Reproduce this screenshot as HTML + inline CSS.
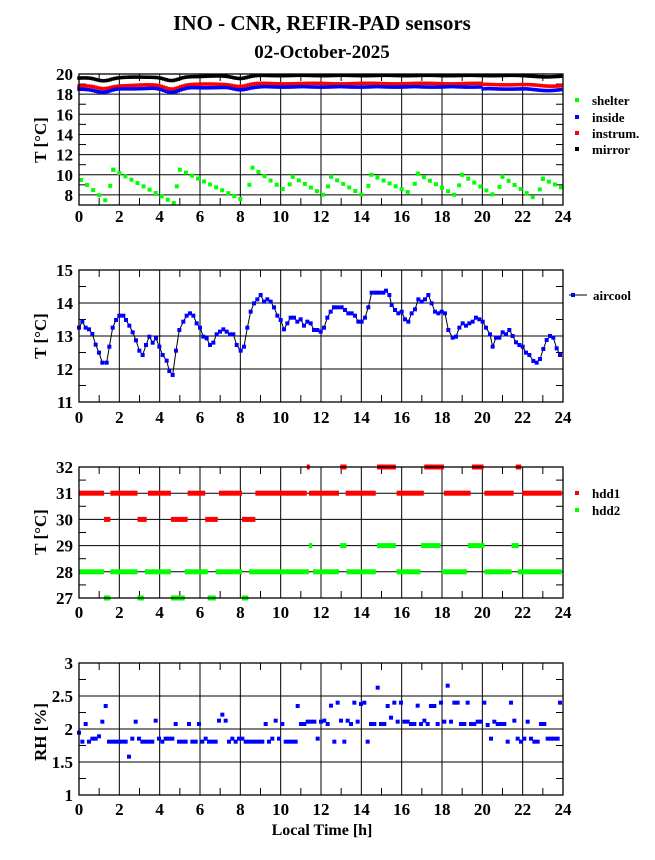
<!DOCTYPE html>
<html><head><meta charset="utf-8">
<style>
html,body{margin:0;padding:0;background:#fff;}
svg{display:block;font-family:"Liberation Serif",serif;font-weight:bold;}
</style></head>
<body>
<svg id="s" width="655" height="860" xmlns="http://www.w3.org/2000/svg">
<text x="322" y="30" text-anchor="middle" font-size="21">INO - CNR, REFIR-PAD sensors</text>
<text x="322" y="58" text-anchor="middle" font-size="19">02-October-2025</text>
<text x="322" y="835" text-anchor="middle" font-size="16">Local Time [h]</text>
</svg>
<script>
const S=document.getElementById('s');const NS='http://www.w3.org/2000/svg';
function el(t,a,txt){const e=document.createElementNS(NS,t);for(const k in a)e.setAttribute(k,a[k]);if(txt!==undefined)e.textContent=txt;S.appendChild(e);return e;}
const X0=79,X1=563;const hx=h=>X0+(X1-X0)*h/24;
function panel(top,bot,ymin,ymax,major,minor,ylab,labs,xlabY,ytitleY){
  const fy=v=>bot-(bot-top)*(v-ymin)/(ymax-ymin);
  for(let h=2;h<24;h+=2)el('line',{x1:hx(h),x2:hx(h),y1:top,y2:bot,stroke:'#000','stroke-width':1});
  for(let h=1;h<24;h+=2){el('line',{x1:hx(h),x2:hx(h),y1:top,y2:top+7,stroke:'#000'});el('line',{x1:hx(h),x2:hx(h),y1:bot,y2:bot-7,stroke:'#000'});}
  for(let v=ymin;v<=ymax+1e-9;v+=minor){const y=fy(v);const isM=Math.abs(v/major-Math.round(v/major))<1e-6;
    if(isM){el('line',{x1:X0,x2:X1,y1:y,y2:y,stroke:'#000'});}
    else{el('line',{x1:X0,x2:X0+7,y1:y,y2:y,stroke:'#000'});el('line',{x1:X1,x2:X1-7,y1:y,y2:y,stroke:'#000'});}
  }
  labs.forEach(([v,t])=>el('text',{x:73,y:fy(v)+6,'text-anchor':'end','font-size':17},t));
  for(let h=0;h<=24;h+=2)el('text',{x:hx(h),y:xlabY,'text-anchor':'middle','font-size':17},String(h));
  el('text',{x:0,y:0,'text-anchor':'middle','font-size':17,transform:`translate(46,${ytitleY}) rotate(-90)`},ylab);
  return fy;
}
function frame(top,bot){el('rect',{x:X0,y:top,width:X1-X0,height:bot-top,fill:'none',stroke:'#000','stroke-width':1.3});}
function sq(x,y,c,s,parent){s=s||4;const r=document.createElementNS(NS,'rect');r.setAttribute('x',x-s/2);r.setAttribute('y',y-s/2);r.setAttribute('width',s);r.setAttribute('height',s);r.setAttribute('fill',c);(parent||S).appendChild(r);}
function clip(id,top,bot){const d=el('clipPath',{id:id});const r=document.createElementNS(NS,'rect');r.setAttribute('x',X0);r.setAttribute('y',top);r.setAttribute('width',X1-X0);r.setAttribute('height',bot-top);d.appendChild(r);}
// ---------- Panel 1
const T1=74,B1=205;
const f1=panel(T1,B1,7,20,2,1,'T [°C]',[[8,'8'],[10,'10'],[12,'12'],[14,'14'],[16,'16'],[18,'18'],[20,'20']],222,140);
clip('c1',T1,B1);
function wave(h,base){return base-0.3*Math.exp(-Math.pow((h-1.2)/0.5,2))-0.4*Math.exp(-Math.pow((h-4.6)/0.5,2))-0.25*Math.exp(-Math.pow((h-8)/0.5,2))+0.25*Math.min(1,h/9)-0.15*Math.exp(-Math.pow((h-23.3)/0.8,2));}
for(let h=0;h<=24;h+=0.12){
  sq(hx(h),f1(wave(h,19.6)+0.02*Math.sin(h*3)),'#000',3.5);
  sq(hx(h),f1(wave(h,18.8)+0.03*Math.sin(h*2.3)-(h>20?0.1:0)),'#f00',3.5);
  sq(hx(h),f1(wave(h,18.5)-0.05*Math.abs(Math.sin(h*1.7))-(h>20?0.2:0)),'#00f',3.5);
}
const pk=[[-0.2,10],[1.7,10.5],[5,10.5],[8.6,10.7],[10.6,9.8],[12.5,9.8],[14.5,10],[16.8,10.1],[19,10],[21,9.8],[23,9.6],[25,9.6]];
const tr=[7.3,7.2,7.3,8.3,7.9,7.8,8.1,7.9,7.8,7.5,8.0];
const g=el('g',{'clip-path':'url(#c1)'});
for(let i=0;i<pk.length-1;i++){const [h0,v0]=pk[i],[h1]=pk[i+1];const hend=h1-0.3;
  for(let h=h0;h<hend;h+=0.3){if(h<0||h>24)continue;const v=v0-(v0-tr[i])*(h-h0)/(hend-h0);sq(hx(h),f1(v),'#0f0',4,g);}
  for(let h=hend+0.15;h<h1;h+=0.15){if(h<0||h>24)continue;const v=tr[i]+(pk[i+1][1]-tr[i])*(h-hend)/0.3;sq(hx(h),f1(v),'#0f0',4,g);}
}
frame(T1,B1);
[['shelter','#0f0',100],['inside','#00f',117],['instrum.','#f00',133],['mirror','#000',149]].forEach(([t,c,y])=>{sq(577,y,c,4);el('text',{x:592,y:y+5,'font-size':13},t);});
// ---------- Panel 2
const T2=270,B2=402;
const f2=panel(T2,B2,11,15,1,0.5,'T [°C]',[[11,'11'],[12,'12'],[13,'13'],[14,'14'],[15,'15']],423,336);
const A=[[57,203],[67,185],[77,203],[87,208],[97,222],[107,254],[117,278],[127,308],[140,308],[148,260],[158,203],[168,180],[178,167],[190,167],[198,180],[208,197],[218,217],[228,241],[238,272],[248,285],[258,255],[268,230],[278,248],[288,235],[298,260],[308,285],[320,302],[328,333],[338,345],[348,272],[358,210],[370,185],[380,167],[390,160],[400,167],[410,190],[420,203],[430,230],[440,235],[450,255],[460,248],[470,223],[480,215],[490,208],[500,215],[510,223],[520,223],[530,255],[542,272],[552,260],[562,203],[572,155],[582,130],[592,118],[602,105],[612,125],[622,118],[632,125],[642,142],[652,167],[662,180],[672,208],[682,190],[692,173],[702,173],[712,185],[722,178],[732,197],[742,185],[752,190],[762,210],[772,210],[782,215],[792,203],[802,173],[812,155],[822,142],[833,142],[845,142],[855,150],[865,160],[875,160],[885,167],[895,185],[905,185],[915,173],[925,142],[935,98],[947,98],[958,98],[970,98],[978,92],[988,105],[995,135],[1005,150],[1015,160],[1025,155],[1035,178],[1045,185],[1055,160],[1065,148],[1075,118],[1085,125],[1095,118],[1105,105],[1115,130],[1125,155],[1135,160],[1145,155],[1155,160],[1165,210],[1178,233],[1188,230],[1198,203],[1208,190],[1218,197],[1228,190],[1238,185],[1248,173],[1258,178],[1268,185],[1278,203],[1290,223],[1298,260],[1308,233],[1318,233],[1328,217],[1338,223],[1348,210],[1358,228],[1368,247],[1378,255],[1388,260],[1398,278],[1408,285],[1420,303],[1430,308],[1440,297],[1450,267],[1460,240],[1470,228],[1480,233],[1490,265],[1500,285]].map(([a,b])=>[60+a/3,260+b/3]);
el('polyline',{points:A.map(p=>p.join(',')).join(' '),fill:'none',stroke:'#000','stroke-width':1});
A.forEach(p=>sq(p[0],p[1],'#00f',4));
frame(T2,B2);
el('line',{x1:569,x2:587,y1:295,y2:295,stroke:'#000'});sq(573,295,'#00f',4);
el('text',{x:593,y:300,'font-size':13},'aircool');
// ---------- Panel 3
const T3=467,B3=598;
const f3=panel(T3,B3,27,32,1,0.5,'T [°C]',[[27,'27'],[28,'28'],[29,'29'],[30,'30'],[31,'31'],[32,'32']],618,532);
const zh=z=>(z-190)/48.25;
function segs(list,v,c){list.forEach(([a,b])=>{el('rect',{x:hx(zh(a)),y:f3(v)-2.5,width:Math.max(3,hx(zh(b))-hx(zh(a))),height:5,fill:c});});}
segs([[190,250],[265,330],[355,410],[450,492],[525,580],[612,735],[740,812],[828,900],[950,1015],[1063,1127],[1160,1230],[1250,1345]],31,'#f00');
segs([[250,265],[330,352],[410,450],[492,522],[580,612]],30,'#f00');
segs([[735,740],[815,830],[903,948],[1016,1063],[1130,1158],[1235,1248]],32,'#f00');
segs([[190,250],[265,330],[348,410],[443,498],[517,580],[597,740],[750,812],[830,900],[950,1007],[1058,1118],[1160,1225],[1240,1345]],28,'#0f0');
segs([[740,748],[815,830],[903,948],[1008,1055],[1120,1160],[1225,1242]],29,'#0f0');
segs([[250,265],[330,345],[410,443],[498,517],[580,595]],27,'#0f0');
frame(T3,B3);
sq(577,493,'#f00',4);el('text',{x:592,y:498,'font-size':13},'hdd1');
sq(577,510,'#0f0',4);el('text',{x:592,y:515,'font-size':13},'hdd2');
// ---------- Panel 4
const T4=663,B4=795;
const f4=panel(T4,B4,1,3,0.5,0.25,'RH [%]',[[1,'1'],[1.5,'1.5'],[2,'2'],[2.5,'2.5'],[3,'3']],815,732);
const R=[[57,233],[67,260],[77,207],[87,260],[97,251],[107,251],[117,244],[127,200],[137,153],[147,260],[157,260],[167,260],[177,260],[187,260],[197,260],[207,305],[217,251],[227,200],[237,251],[247,260],[257,260],[267,260],[277,260],[287,197],[297,251],[307,260],[317,251],[327,251],[337,251],[347,207],[357,260],[367,260],[377,260],[387,207],[397,260],[407,260],[417,207],[427,260],[437,251],[447,260],[457,260],[467,260],[477,197],[487,179],[497,197],[507,260],[517,251],[527,260],[537,251],[547,251],[557,260],[567,260],[577,260],[587,260],[597,260],[607,260],[617,207],[627,260],[637,251],[647,197],[657,251],[667,207],[677,260],[687,260],[697,260],[707,260],[713,153],[723,207],[733,207],[743,200],[753,200],[763,200],[773,251],[783,200],[793,197],[803,207],[813,152],[823,260],[833,143],[843,197],[853,260],[863,197],[873,207],[883,143],[893,200],[903,147],[913,143],[923,260],[933,207],[943,207],[953,98],[963,207],[973,207],[983,153],[993,188],[1003,143],[1013,200],[1023,143],[1033,200],[1043,200],[1053,207],[1063,207],[1073,152],[1083,207],[1093,197],[1103,207],[1113,153],[1123,153],[1133,207],[1143,143],[1153,200],[1163,92],[1173,200],[1183,143],[1193,143],[1203,207],[1213,207],[1223,143],[1233,207],[1243,207],[1253,200],[1263,200],[1273,143],[1283,210],[1293,251],[1303,200],[1313,207],[1323,207],[1333,207],[1343,260],[1353,143],[1363,197],[1373,251],[1383,260],[1393,251],[1403,200],[1413,251],[1423,260],[1433,260],[1443,207],[1453,207],[1463,251],[1473,251],[1483,251],[1493,251],[1500,143]];
R.forEach(([a,b])=>sq(60+a/3,655+b/3,'#00f',4));
frame(T4,B4);
</script>
</body></html>
